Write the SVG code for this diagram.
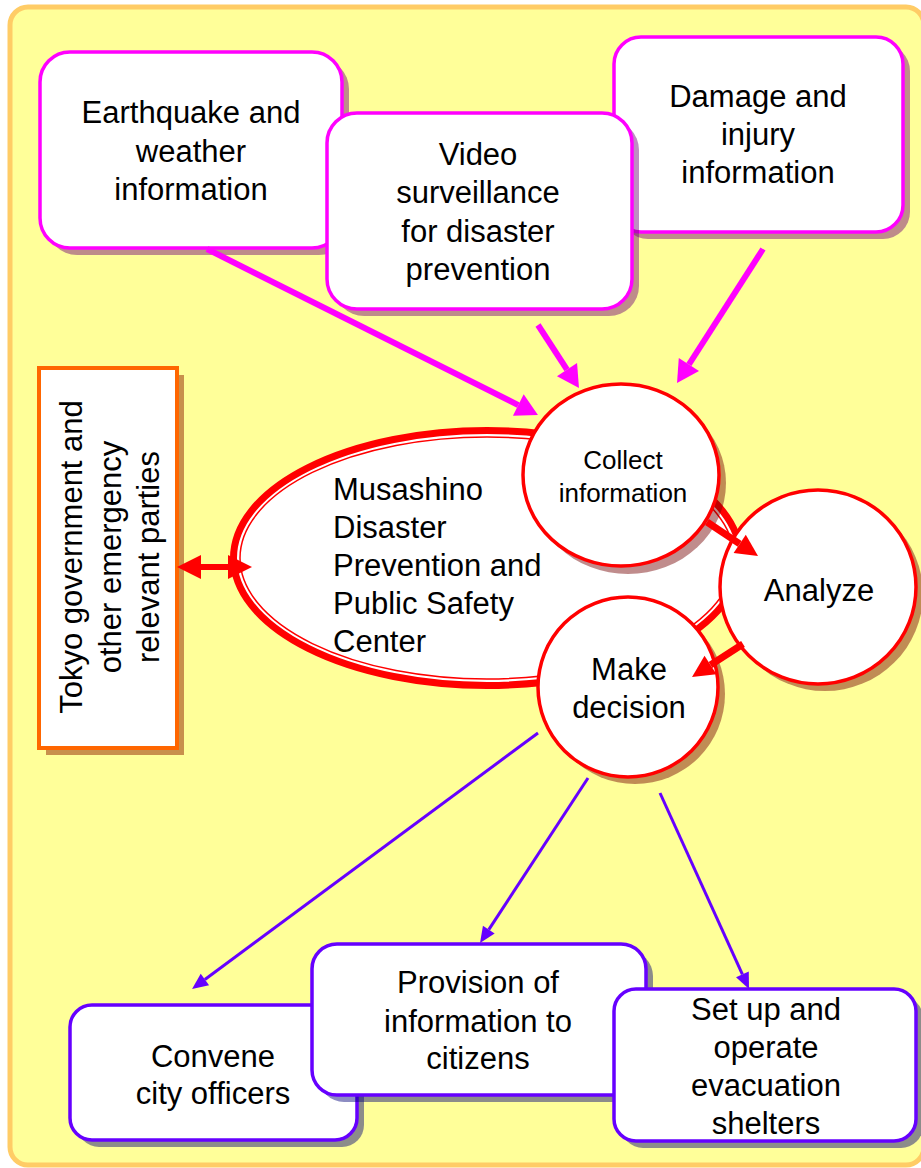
<svg xmlns="http://www.w3.org/2000/svg" width="921" height="1168" viewBox="0 0 921 1168">
<style>
  text { font-family: "Liberation Sans", Arial, sans-serif; font-size: 31px; fill: #000; }
  .mid { text-anchor: middle; }
  .small { font-size: 26px; }
  .magbox { fill: #fff; stroke: #FF00FF; stroke-width: 3.5; }
  .magsh { fill: rgb(110,0,120); fill-opacity: 0.45; }
  .purbox { fill: #fff; stroke: #6600FF; stroke-width: 3.5; }
  .pursh { fill: rgb(0,0,120); fill-opacity: 0.45; }
  .circ { fill: #fff; stroke: #FF0000; stroke-width: 3.5; }
  .redsh { fill: rgb(115,0,0); fill-opacity: 0.45; }
  .magline { stroke: #FF00FF; stroke-width: 6; fill: none; }
  .redline { stroke: #FF0000; stroke-width: 7; fill: none; }
  .purline { stroke: #6600FF; stroke-width: 3; fill: none; }
</style>
<defs>
  <marker id="mag" markerUnits="userSpaceOnUse" markerWidth="24" markerHeight="26" refX="0" refY="12" orient="auto" overflow="visible">
    <path d="M0,0 L22,12 L0,24 z" fill="#FF00FF"/>
  </marker>
  <marker id="red" markerUnits="userSpaceOnUse" markerWidth="24" markerHeight="24" refX="0" refY="11" orient="auto" overflow="visible">
    <path d="M0,0 L22,11 L0,22 z" fill="#FF0000"/>
  </marker>
  <marker id="pur" markerUnits="userSpaceOnUse" markerWidth="18" markerHeight="16" refX="0" refY="7" orient="auto" overflow="visible">
    <path d="M0,0 L16,7 L0,14 z" fill="#6600FF"/>
  </marker>
</defs>

<rect x="10" y="7" width="914" height="1158" rx="18" fill="#FFFF99" stroke="#FFCC66" stroke-width="5"/>

<g id="node-earthquake">
  <rect class="magsh" x="47" y="59" width="302" height="196" rx="30"/>
  <rect class="magbox" x="40" y="52" width="302" height="196" rx="30"/>
  <text class="mid" x="191" y="123">Earthquake and</text>
  <text class="mid" x="191" y="162">weather</text>
  <text class="mid" x="191" y="200">information</text>
</g>

<g id="node-damage">
  <rect class="magsh" x="621" y="44" width="289" height="195" rx="27"/>
  <rect class="magbox" x="614" y="37" width="289" height="195" rx="27"/>
  <text class="mid" x="758" y="107">Damage and</text>
  <text class="mid" x="758" y="145">injury</text>
  <text class="mid" x="758" y="183">information</text>
</g>

<g id="node-video">
  <rect class="magsh" x="334" y="120" width="305" height="196" rx="30"/>
  <rect class="magbox" x="327" y="113" width="305" height="196" rx="30"/>
  <text class="mid" x="478" y="165">Video</text>
  <text class="mid" x="478" y="203">surveillance</text>
  <text class="mid" x="478" y="242">for disaster</text>
  <text class="mid" x="478" y="280">prevention</text>
</g>

<g id="node-tokyo">
  <rect x="46" y="375" width="138" height="380" fill="#C8904C"/>
  <rect x="39" y="368" width="138" height="380" fill="#fff" stroke="#FF6600" stroke-width="4"/>
  <text class="mid" transform="rotate(-90)" x="-557" y="82">Tokyo government and</text>
  <text class="mid" transform="rotate(-90)" x="-557" y="121">other emergency</text>
  <text class="mid" transform="rotate(-90)" x="-557" y="159">relevant parties</text>
</g>

<g id="node-center">
  <ellipse cx="487" cy="558" rx="253.5" ry="127.5" fill="#fff" stroke="#FF0000" stroke-width="7"/>
  <ellipse cx="487" cy="558" rx="247" ry="121" fill="none" stroke="#FF0000" stroke-width="1.5"/>
  <text x="333" y="500">Musashino</text>
  <text x="333" y="538">Disaster</text>
  <text x="333" y="576">Prevention and</text>
  <text x="333" y="614">Public Safety</text>
  <text x="333" y="652">Center</text>
</g>

<g id="node-collect">
  <ellipse class="redsh" cx="628" cy="483" rx="98" ry="91"/>
  <ellipse class="circ" cx="621" cy="475" rx="98" ry="91"/>
  <text class="mid small" x="623" y="469">Collect</text>
  <text class="mid small" x="623" y="502">information</text>
</g>

<g id="node-analyze">
  <ellipse class="redsh" cx="825" cy="594" rx="98" ry="97"/>
  <ellipse class="circ" cx="818" cy="587" rx="98" ry="97"/>
  <text class="mid" x="819" y="601">Analyze</text>
</g>

<g id="node-decision">
  <ellipse class="redsh" cx="635" cy="694" rx="90" ry="90"/>
  <ellipse class="circ" cx="628" cy="687" rx="90" ry="90"/>
  <text class="mid" x="629" y="680">Make</text>
  <text class="mid" x="629" y="718">decision</text>
</g>

<g id="node-convene">
  <rect class="pursh" x="77" y="1012" width="287" height="135" rx="22"/>
  <rect class="purbox" x="70" y="1005" width="287" height="135" rx="22"/>
  <text class="mid" x="213" y="1067">Convene</text>
  <text class="mid" x="213" y="1104">city officers</text>
</g>

<g id="node-provision">
  <rect class="pursh" x="319" y="951" width="334" height="151" rx="25"/>
  <rect class="purbox" x="312" y="944" width="334" height="151" rx="25"/>
  <text class="mid" x="478" y="993">Provision of</text>
  <text class="mid" x="478" y="1032">information to</text>
  <text class="mid" x="478" y="1069">citizens</text>
</g>

<g id="node-setup">
  <rect class="pursh" x="621" y="996" width="302" height="152" rx="22"/>
  <rect class="purbox" x="614" y="989" width="302" height="152" rx="22"/>
  <text class="mid" x="766" y="1020">Set up and</text>
  <text class="mid" x="766" y="1058">operate</text>
  <text class="mid" x="766" y="1096">evacuation</text>
  <text class="mid" x="766" y="1134">shelters</text>
</g>

<g id="connectors">
  <line class="magline" x1="207" y1="249" x2="518.3" y2="405.1" marker-end="url(#mag)"/>
  <line class="magline" x1="538" y1="325" x2="567" y2="369.6" marker-end="url(#mag)"/>
  <line class="magline" x1="763" y1="249" x2="688.9" y2="364.5" marker-end="url(#mag)"/>
  <line class="redline" x1="707" y1="522" x2="739.7" y2="543.8" marker-end="url(#red)"/>
  <line class="redline" x1="743" y1="644" x2="710.5" y2="665" marker-end="url(#red)"/>
  <line stroke="#FF0000" stroke-width="6" x1="198" y1="567" x2="231" y2="567"/>
  <path d="M177,567 L201,555 L201,579 z" fill="#FF0000"/>
  <path d="M252,567 L228,555 L228,579 z" fill="#FF0000"/>
  <line class="purline" x1="538" y1="733" x2="204.9" y2="979.5" marker-end="url(#pur)"/>
  <line class="purline" x1="588" y1="778" x2="488.8" y2="929.6" marker-end="url(#pur)"/>
  <line class="purline" x1="660" y1="793" x2="742.4" y2="974.4" marker-end="url(#pur)"/>
</g>
</svg>
